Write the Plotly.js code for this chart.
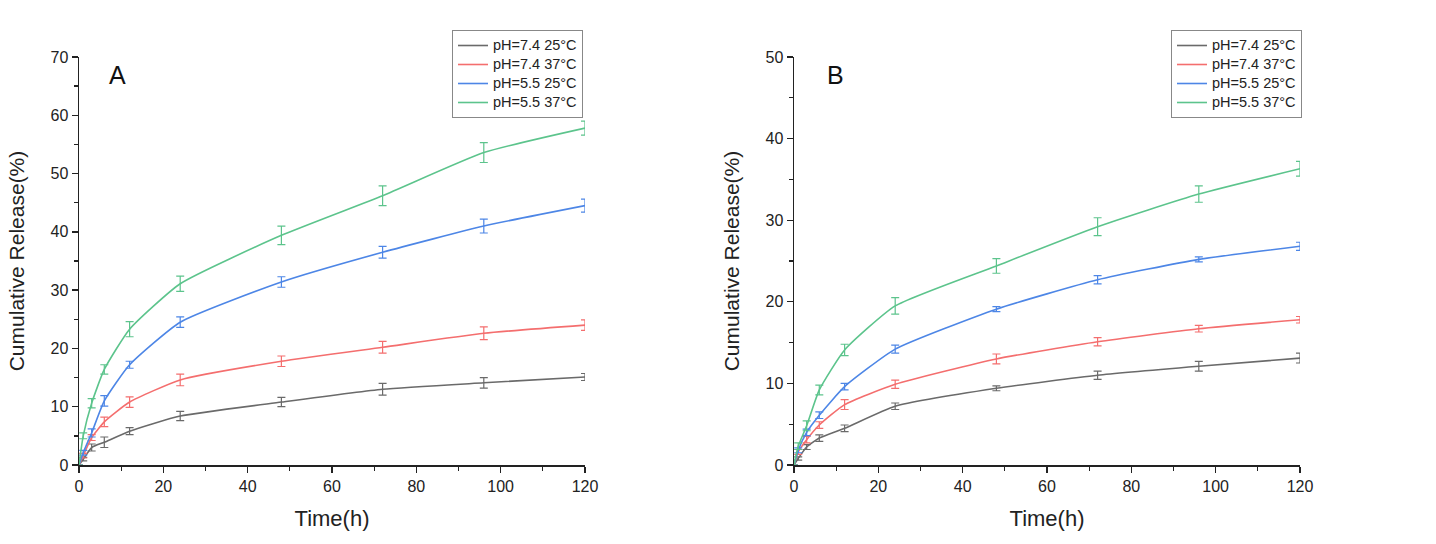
<!DOCTYPE html>
<html>
<head>
<meta charset="utf-8">
<script src="https://cdn.plot.ly/plotly-3.0.1.min.js"></script>
<style>html,body{margin:0;padding:0;background:#fff;}#chart{width:1436px;height:544px;}</style>
</head>
<body>
<div id="chart"></div>
<script>
// ---------- DATA ----------
const times = [0, 1, 3, 6, 12, 24, 48, 72, 96, 120];
const seriesNames = ["pH=7.4 25°C", "pH=7.4 37°C", "pH=5.5 25°C", "pH=5.5 37°C"];
const seriesColors = ["#6a6a6a", "#f46e6e", "#4d86e6", "#5cc48c"];

// Panel A
const A_74_25 = [0, 1.0, 3.0, 3.9, 5.8, 8.4, 10.8, 13.0, 14.1, 15.1];
const A_74_37 = [0, 1.6, 4.7, 7.4, 10.8, 14.6, 17.8, 20.2, 22.6, 24.0];
const A_55_25 = [0, 2.1, 5.5, 11.0, 17.2, 24.5, 31.4, 36.5, 41.0, 44.5];
const A_55_37 = [0, 5.0, 10.6, 16.4, 23.3, 31.1, 39.4, 46.2, 53.6, 57.8];
const A_74_25_err = [0, 0.3, 0.6, 0.9, 0.6, 0.8, 0.8, 1.0, 0.9, 0.6];
const A_74_37_err = [0, 0.4, 0.5, 0.8, 0.9, 1.0, 0.9, 1.0, 1.1, 0.9];
const A_55_25_err = [0, 0.4, 0.7, 0.9, 0.6, 0.9, 0.9, 1.0, 1.2, 1.1];
const A_55_37_err = [0, 0.5, 0.8, 0.8, 1.3, 1.3, 1.6, 1.7, 1.7, 1.2];

// Panel B
const B_74_25 = [0, 0.8, 2.2, 3.3, 4.5, 7.2, 9.4, 11.0, 12.1, 13.1];
const B_74_37 = [0, 1.6, 3.1, 4.9, 7.4, 9.9, 13.0, 15.1, 16.7, 17.8];
const B_55_25 = [0, 1.8, 4.0, 6.1, 9.6, 14.2, 19.1, 22.7, 25.2, 26.8];
const B_55_37 = [0, 2.3, 4.8, 9.2, 14.1, 19.5, 24.4, 29.2, 33.2, 36.3];
const B_74_25_err = [0, 0.2, 0.3, 0.4, 0.4, 0.4, 0.3, 0.5, 0.6, 0.6];
const B_74_37_err = [0, 0.3, 0.4, 0.4, 0.6, 0.5, 0.6, 0.5, 0.4, 0.4];
const B_55_25_err = [0, 0.3, 0.4, 0.4, 0.4, 0.5, 0.3, 0.5, 0.3, 0.5];
const B_55_37_err = [0, 0.4, 0.6, 0.6, 0.7, 1.0, 0.9, 1.1, 1.0, 0.9];

const panelLabels = ["A", "B"];
const xTitle = "Time(h)";
const yTitle = "Cumulative Release(%)";

// ---------- BUILD ----------
const FONT = "Liberation Sans, Arial, sans-serif";
function mkTrace(y, err, i, xa, ya, legend) {
  return {
    x: times, y: y, name: '<span style="font-size:14.5px">' + seriesNames[i] + '</span>',
    type: "scatter", mode: "lines",
    xaxis: xa, yaxis: ya, legend: legend,
    line: {color: seriesColors[i], width: 1.6, shape: "spline", smoothing: 0.5},
    error_y: {type: "data", array: err, visible: true, color: seriesColors[i], thickness: 1.2, width: 4}
  };
}
const A_vals = [A_74_25, A_74_37, A_55_25, A_55_37];
const A_errs = [A_74_25_err, A_74_37_err, A_55_25_err, A_55_37_err];
const B_vals = [B_74_25, B_74_37, B_55_25, B_55_37];
const B_errs = [B_74_25_err, B_74_37_err, B_55_25_err, B_55_37_err];
const traces = [];
for (let i = 0; i < 4; i++) traces.push(mkTrace(A_vals[i], A_errs[i], i, "x", "y", "legend"));
for (let i = 0; i < 4; i++) traces.push(mkTrace(B_vals[i], B_errs[i], i, "x2", "y2", "legend2"));

function xAxis(dom, anchor) {
  return {
    domain: dom, anchor: anchor, range: [0, 120], dtick: 20, tick0: 0,
    showgrid: false, zeroline: false, showline: true, linecolor: "#222", linewidth: 1.5,
    ticks: "outside", ticklen: 6, tickwidth: 1.3, tickcolor: "#222",
    minor: {dtick: 10, ticks: "outside", ticklen: 4, tickwidth: 1.3, tickcolor: "#222", showgrid: false},
    tickfont: {family: FONT, size: 16, color: "#222"},
    title: {text: xTitle, font: {family: FONT, size: 22, color: "#222"}, standoff: 17},
    automargin: false
  };
}
function yAxis(dom, anchor, maxv) {
  return {
    domain: dom, anchor: anchor, range: [0, maxv], dtick: 10, tick0: 0,
    showgrid: false, zeroline: false, showline: true, linecolor: "#222", linewidth: 1.5,
    ticks: "outside", ticklen: 6, tickwidth: 1.3, tickcolor: "#222",
    minor: {dtick: 5, ticks: "outside", ticklen: 4, tickwidth: 1.3, tickcolor: "#222", showgrid: false},
    tickfont: {family: FONT, size: 16, color: "#222"},
    title: {text: yTitle, font: {family: FONT, size: 21, color: "#222"}, standoff: 20},
    automargin: false
  };
}
const W = 1436, H = 544;
const yDom = [1 - 465 / H, 1 - 57 / H];
const legendBase = {
  bgcolor: "rgba(255,255,255,0)", bordercolor: "#888", borderwidth: 1,
  font: {family: FONT, size: 11, color: "#222"}, xanchor: "left", yanchor: "top",
  tracegroupgap: 0, itemwidth: 30
};
const layout = {
  width: W, height: H,
  margin: {l: 0, r: 0, t: 0, b: 0},
  paper_bgcolor: "#fff", plot_bgcolor: "#fff",
  showlegend: true,
  xaxis: xAxis([79 / W, 585 / W], "y"),
  yaxis: yAxis(yDom, "x", 70),
  xaxis2: xAxis([794 / W, 1300 / W], "y2"),
  yaxis2: yAxis(yDom, "x2", 50),
  legend: Object.assign({}, legendBase, {x: 452 / W, y: 1 - 30 / H}),
  legend2: Object.assign({}, legendBase, {x: 1171 / W, y: 1 - 30 / H}),
  annotations: [
    {text: panelLabels[0], xref: "paper", yref: "paper", x: 117 / W, y: 1 - 75 / H, showarrow: false,
     xanchor: "center", yanchor: "middle", font: {family: FONT, size: 25, color: "#111"}},
    {text: panelLabels[1], xref: "paper", yref: "paper", x: 835 / W, y: 1 - 75 / H, showarrow: false,
     xanchor: "center", yanchor: "middle", font: {family: FONT, size: 25, color: "#111"}}
  ]
};
Plotly.newPlot("chart", traces, layout, {displayModeBar: false, staticPlot: true});
</script>
</body>
</html>
